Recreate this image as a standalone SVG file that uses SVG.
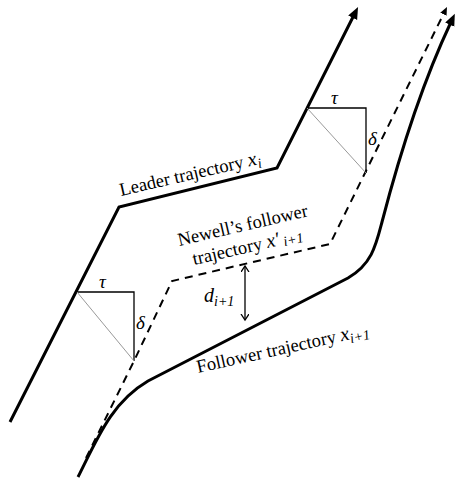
<svg xmlns="http://www.w3.org/2000/svg" width="455" height="483" viewBox="0 0 455 483">
<style>
.txt{font-family:"Liberation Serif","Times New Roman",serif;font-size:18.5px;fill:#000}
.m{font-family:"Liberation Serif","Times New Roman",serif;font-style:italic;fill:#000}
.thick{fill:none;stroke:#000;stroke-width:3}
.dash{fill:none;stroke:#000;stroke-width:2;stroke-dasharray:8 6}
.thin{fill:none;stroke:#000;stroke-width:1.3}
.diag{fill:none;stroke:#999;stroke-width:1}
</style>
<defs>
<marker id="ah" markerUnits="userSpaceOnUse" markerWidth="14" markerHeight="12" refX="3" refY="5" orient="auto"><path d="M0,0 L12,5 L0,10 z" fill="#000"/></marker>
<marker id="ahs" markerUnits="userSpaceOnUse" markerWidth="10" markerHeight="8" refX="2" refY="3.5" orient="auto"><path d="M0,0 L8,3.5 L0,7 z" fill="#000"/></marker>
<marker id="av" markerUnits="userSpaceOnUse" markerWidth="10" markerHeight="10" refX="6" refY="4" orient="auto-start-reverse"><path d="M0,0 L6,4 L0,8" fill="none" stroke="#000" stroke-width="1.3"/></marker>
</defs>
<g id="connectors">
<path id="leader" class="thick" d="M10,422 L119,207 L277,168 L354,15" marker-end="url(#ah)"/>
<path id="newell" class="dash" d="M86,458 L134,361 L172,281 L330,244 L365,173 L444.3,12.4" marker-end="url(#ahs)"/>
<path id="follower" class="thick" d="M78,477 C98,437 112,402 148,381 L348,278 C372,264 376,245 382,222 C395,172 418,92 451,22" marker-end="url(#ah)"/>
<path id="gap" class="thin" d="M245,266 L245,320" marker-start="url(#av)" marker-end="url(#av)"/>
</g>
<g id="triangle-lower">
<path class="thin" d="M77,292 L134,292 L134,361"/>
<path class="diag" d="M77,292 L134,361"/>
<text class="m" x="99" y="288" font-size="19">τ</text>
<text class="m" x="136" y="329" font-size="19">δ</text>
</g>
<g id="triangle-upper">
<path class="thin" d="M307,108 L366,108 L366,173"/>
<path class="diag" d="M307,108 L366,173"/>
<text class="m" x="331" y="104" font-size="19">τ</text>
<text class="m" x="368" y="145" font-size="19">δ</text>
</g>
<g id="label-leader">
<text class="txt" transform="translate(121,196) rotate(-13)">Leader trajectory <tspan class="m" font-size="20">x</tspan><tspan class="m" font-size="14" dy="4">i</tspan></text>
</g>
<g id="label-newell">
<text class="txt" text-anchor="middle" transform="translate(244,231) rotate(-13)"><tspan x="0" y="0">Newell’s follower</tspan><tspan x="0" y="22">trajectory <tspan class="m" font-size="20">x′</tspan><tspan class="m" font-size="14" dy="2"> i+1</tspan></tspan></text>
</g>
<g id="label-follower">
<text class="txt" transform="translate(198,373) rotate(-12.5)">Follower trajectory <tspan class="m" font-size="20">x</tspan><tspan class="m" font-size="14" dy="4">i+1</tspan></text>
</g>
<g id="label-d">
<text class="m" x="204" y="302" font-size="20">d<tspan font-size="14" dy="4">i+1</tspan></text>
</g>
</svg>
